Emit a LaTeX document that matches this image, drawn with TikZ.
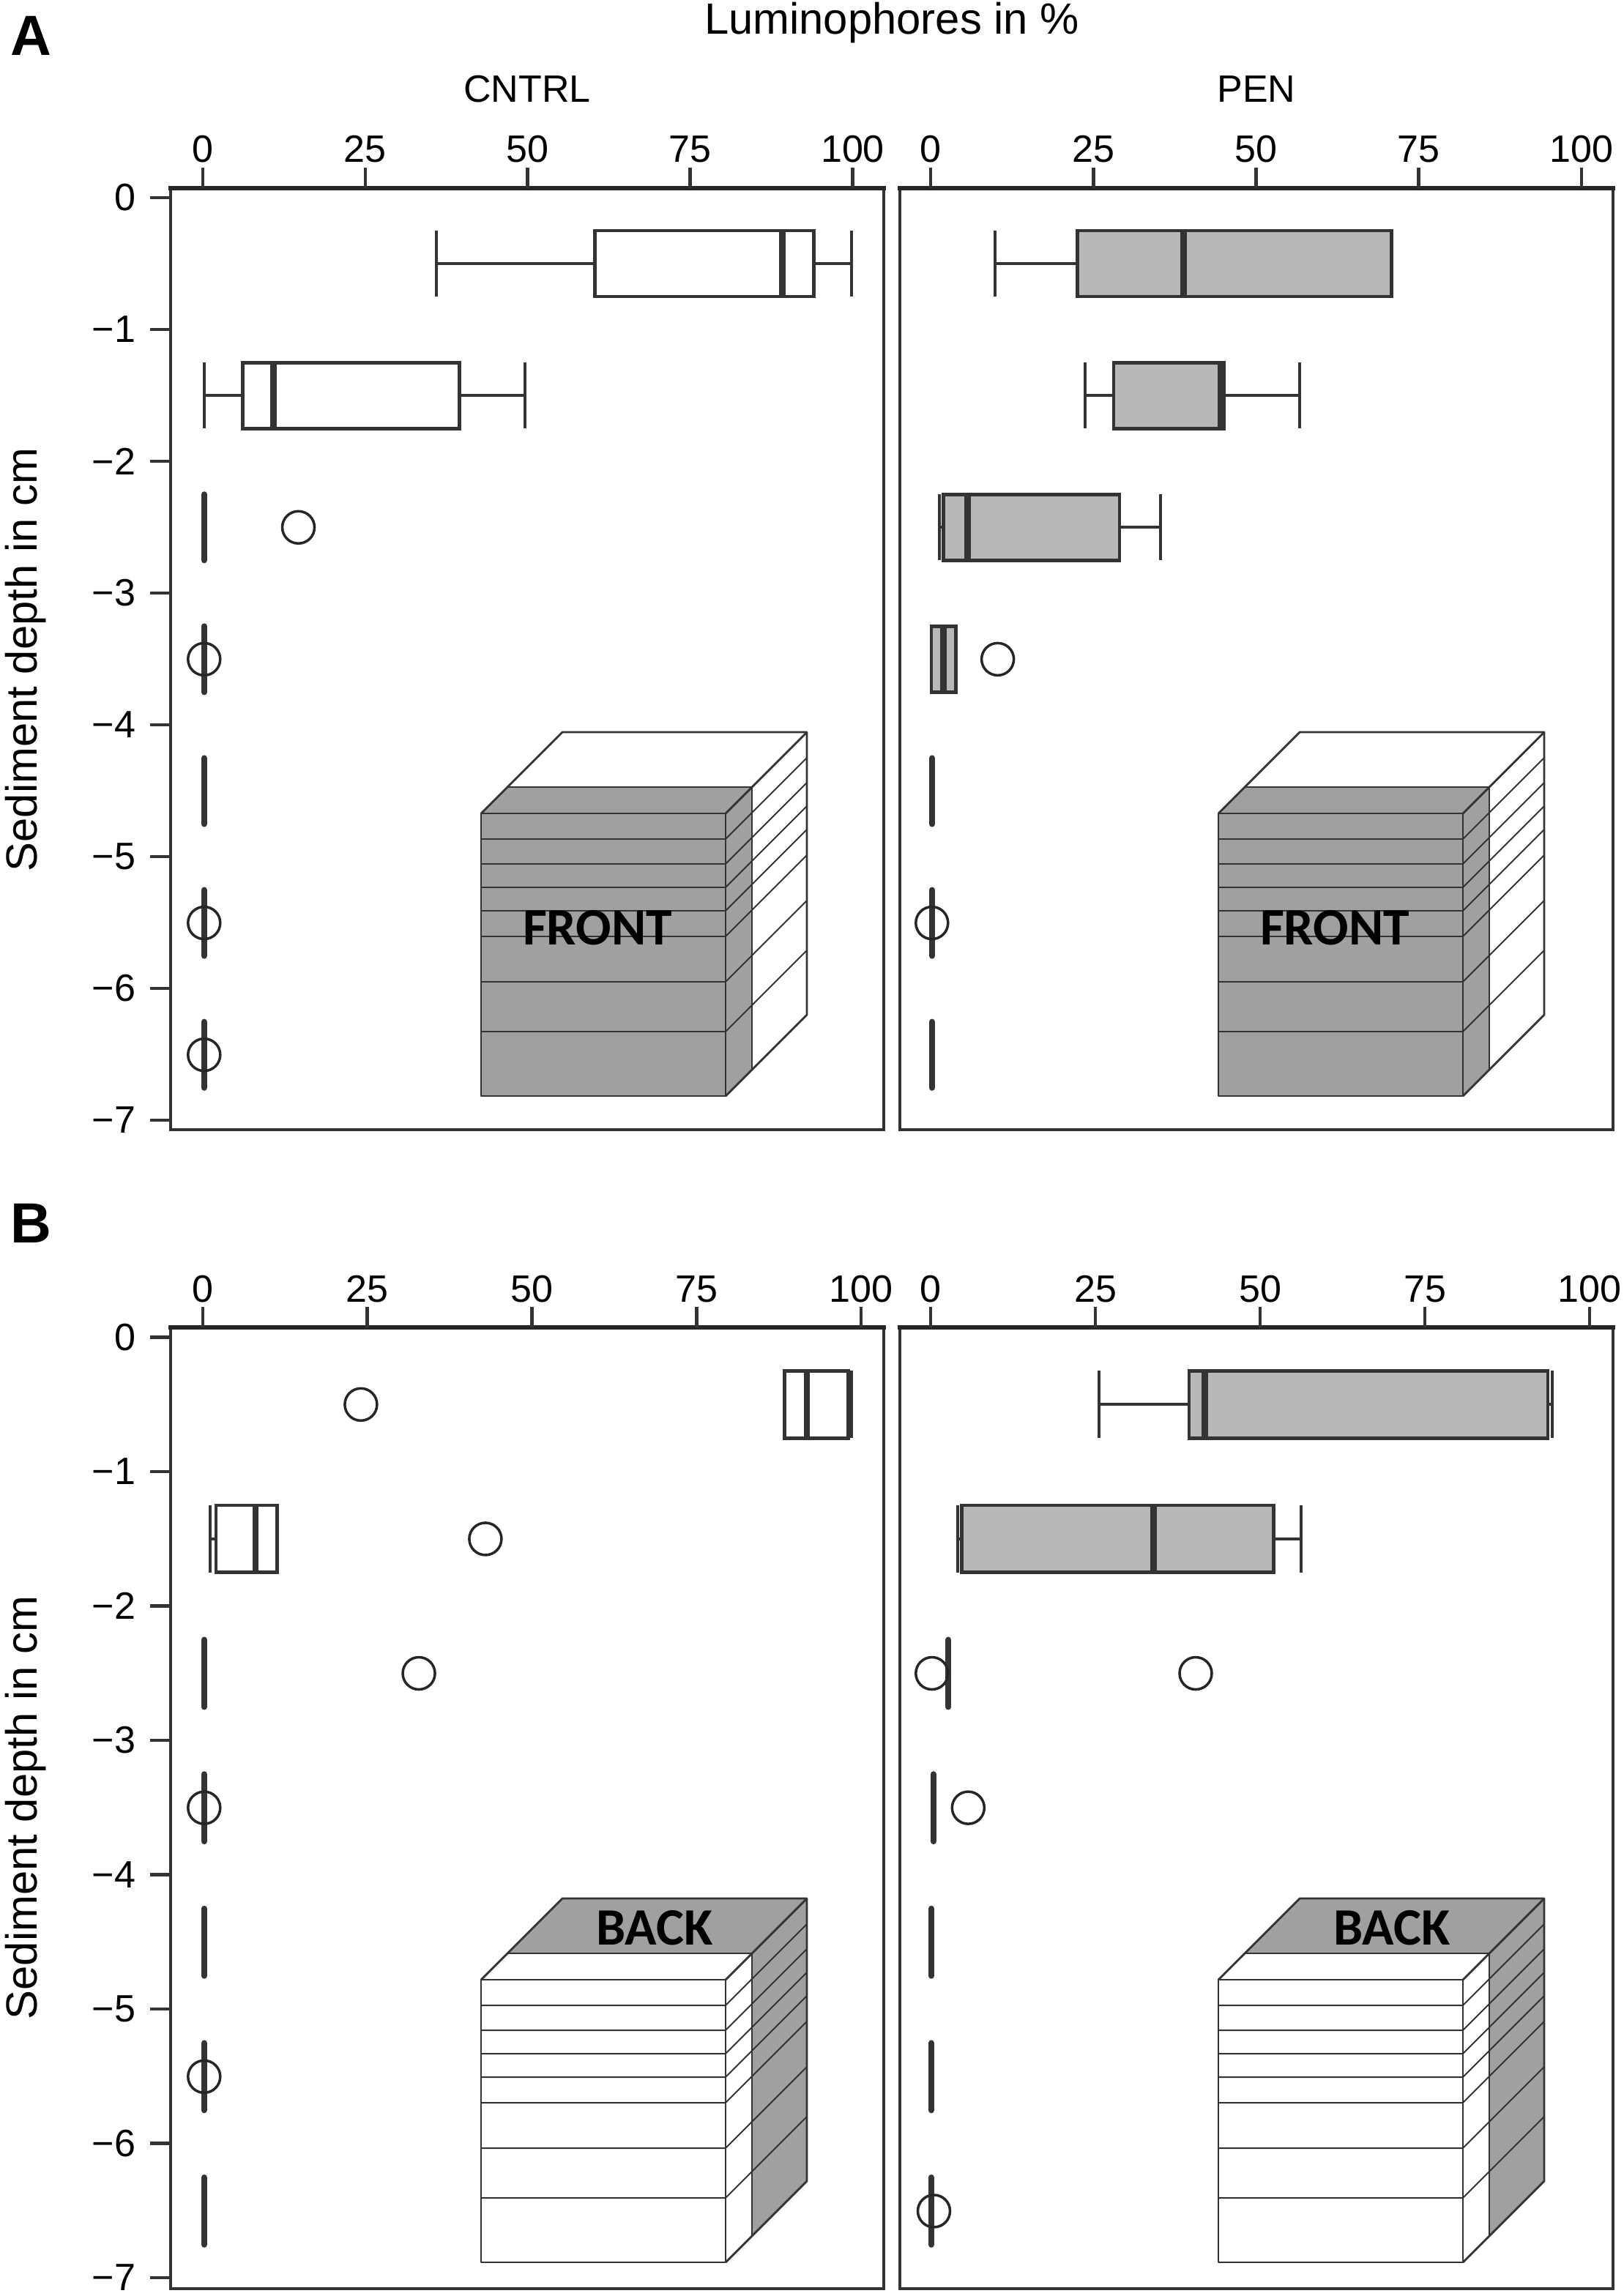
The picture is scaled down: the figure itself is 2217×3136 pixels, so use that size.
\documentclass[tikz,border=0pt]{standalone}
\usepackage{fontspec}
\setmainfont{Liberation Sans}
\newfontfamily\cubefont{Carlito}
\usepackage{tikz}

\definecolor{boxgray}{HTML}{B8B8B8}
\definecolor{cubegray}{HTML}{A0A0A0}
\definecolor{ink}{HTML}{333333}

% depth, low, q1, median, q3, high, fill
\newcommand{\bplot}[7]{
  \draw[whisker line] (#2,#1) -- (#3,#1) (#5,#1) -- (#6,#1);
  \draw[whisker line] (#2,#1-.25) -- (#2,#1+.25) (#6,#1-.25) -- (#6,#1+.25);
  \draw[box line,fill=#7] (#3,#1-.25) rectangle (#5,#1+.25);
  \draw[median line] (#4,#1-.25) -- (#4,#1+.25);
}
\newcommand{\bzero}[2]{\draw[zero line] (#2,#1-.25) -- (#2,#1+.25);}
\newcommand{\boutl}[2]{\draw[outlier line] (#2,#1) circle [radius=0.22cm];}

% name, left, right, top, bottom, x origin, x step, label baseline
\newcommand{\xaxes}[8]{
  \draw[frame line] (#2,#4) rectangle (#3,#5);
  \draw[axis line] (#2,#4) -- (#3,#4);
  \foreach \v in {0,25,50,75,100} {
    \draw[tick line] ({#6+\v*#7},#4) -- ++(0,-28);
    \node[TickStyle,anchor=base] (#1x\v) at ({#6+\v*#7},#8) {\v};
  }
}
% name, y origin, y step
\newcommand{\yaxes}[3]{
  \foreach \d in {0,...,7} {
    \draw[tick line] (205,{#2+\d*#3}) -- (233,{#2+\d*#3});
    \node[TickStyle,anchor=east] (#1y\d) at (186,{#2+\d*#3}) {\ifnum\d=0 0\else −\d\fi};
  }
}
% shift, colour of front part, colour of rear part
\newcommand{\layercube}[3]{
  \begin{scope}[shift={(#1)}]
    \fill[#3] (36,-36) -- (111,-111) -- (445,-111) -- (370,-36) -- cycle;
    \fill[#3] (370,-36) -- (445,-111) -- (445,275) -- (370,350) -- cycle;
    \fill[#2] (0,0) -- (36,-36) -- (370,-36) -- (334,0) -- cycle;
    \fill[#2] (334,0) -- (370,-36) -- (370,350) -- (334,386) -- cycle;
    \fill[#2] (0,0) rectangle (334,386);
    \foreach \h in {35,69,101,133,168,230,298}
      \draw[layer line] (0,\h) -- (334,\h) -- (445,\h-111);
    \draw[layer line] (36,-36) -- (370,-36) -- (370,350);
    \draw[cube line] (0,0) rectangle (334,386);
    \draw[cube line] (0,0) -- (111,-111) -- (445,-111) -- (445,275) -- (334,386);
    \draw[cube line] (334,0) -- (445,-111);
  \end{scope}
}

\begin{document}
\begin{tikzpicture}[x=0.01cm,y=-0.01cm,
  frame line/.style={color=ink,line width=1pt},
  axis line/.style={color=black!85,line width=1.5pt,line cap=rect},
  tick line/.style={color=ink,line width=1.3pt},
  whisker line/.style={color=ink,line width=1.15pt},
  box line/.style={color=ink,line width=1.35pt},
  median line/.style={color=ink,line width=2.5pt},
  zero line/.style={color=ink,line width=2.3pt,line cap=round},
  outlier line/.style={color=black!85,line width=1pt},
  layer line/.style={color=ink,line width=0.55pt},
  cube line/.style={color=ink,line width=0.8pt,line join=round}]
  \tikzset{TickStyle/.style={font=\fontsize{14.8}{17}\selectfont,inner sep=0pt},
    TitleStyle/.style={font=\fontsize{17}{20}\selectfont,inner sep=0pt,anchor=base},
    HeadStyle/.style={font=\fontsize{14.8}{17}\selectfont,inner sep=0pt,anchor=base},
    PanelStyle/.style={font=\fontsize{22}{26}\selectfont\bfseries,inner sep=0pt,anchor=base west},
    CubeStyle/.style={font=\cubefont\fontsize{20.4}{24}\selectfont\bfseries,inner sep=0pt,text=black}}
  \useasboundingbox (0,0) rectangle (2217,3136);

  \node[PanelStyle] (panelA) at (14,75) {A};
  \node[PanelStyle] (panelB) at (14,1697) {B};
  \node[TitleStyle] (title) at (1218,46) {Luminophores in \%};
  \node[HeadStyle] (cntrl) at (720,139) {CNTRL};
  \node[HeadStyle] (pen) at (1716,139) {PEN};
  \node[TitleStyle,rotate=90] (depthA) at (51,901) {Sediment depth in cm};
  \node[TitleStyle,rotate=90] (depthB) at (51,2469) {Sediment depth in cm};

  \xaxes{al}{233}{1207}{257}{1543}{277}{8.875}{221}
  \yaxes{al}{270}{180}
  \xaxes{ar}{1229}{2203}{257}{1543}{1271}{8.89}{221}
  \xaxes{bl}{233}{1207}{1813}{3126}{277}{8.99}{1778}
  \yaxes{bl}{1826.5}{183.5}
  \xaxes{br}{1229}{2203}{1813}{3126}{1271}{9}{1778}

  \layercube{657,1111}{cubegray}{white}
  \layercube{1664,1111}{cubegray}{white}
  \layercube{657,2704}{white}{cubegray}
  \layercube{1664,2704}{white}{cubegray}
  \node[CubeStyle] (frontL) at (816,1267) {FRONT};
  \node[CubeStyle] (frontR) at (1823,1267) {FRONT};
  \node[CubeStyle] (backL) at (894,2633) {BACK};
  \node[CubeStyle] (backR) at (1901,2633) {BACK};

  \begin{scope}[shift={(277,270)},x=0.08875cm,y=1.8cm]
    \bplot{-0.5}{35.9}{60.3}{89.1}{94}{99.8}{white}
    \bplot{-1.5}{0.2}{6.1}{10.9}{39.5}{49.5}{white}
    \bzero{-2.5}{0.2} \boutl{-2.5}{14.7}
    \bzero{-3.5}{0.2} \boutl{-3.5}{0.2}
    \bzero{-4.5}{0.2}
    \bzero{-5.5}{0.2} \boutl{-5.5}{0.2}
    \bzero{-6.5}{0.2} \boutl{-6.5}{0.2}
  \end{scope}
  \begin{scope}[shift={(1271,270)},x=0.0889cm,y=1.8cm]
    \bplot{-0.5}{9.9}{22.5}{38.8}{70.8}{70.8}{boxgray}
    \bplot{-1.5}{23.7}{28.1}{44.6}{45}{56.7}{boxgray}
    \bplot{-2.5}{1.4}{2}{5.7}{29}{35.3}{boxgray}
    \bplot{-3.5}{0.1}{0.1}{2}{3.9}{3.9}{boxgray}
    \boutl{-3.5}{10.3}
    \bzero{-4.5}{0.2}
    \bzero{-5.5}{0.2} \boutl{-5.5}{0.2}
    \bzero{-6.5}{0.2}
  \end{scope}
  \begin{scope}[shift={(277,1826.5)},x=0.0899cm,y=1.835cm]
    \bplot{-0.5}{88.3}{88.3}{91.7}{98}{98.5}{white}
    \boutl{-0.5}{24}
    \bplot{-1.5}{1.1}{2}{8}{11.3}{11.3}{white}
    \boutl{-1.5}{42.9}
    \bzero{-2.5}{0.2} \boutl{-2.5}{32.8}
    \bzero{-3.5}{0.2} \boutl{-3.5}{0.2}
    \bzero{-4.5}{0.2}
    \bzero{-5.5}{0.2} \boutl{-5.5}{0.2}
    \bzero{-6.5}{0.2}
  \end{scope}
  \begin{scope}[shift={(1271,1826.5)},x=0.09cm,y=1.835cm]
    \bplot{-0.5}{25.5}{39.2}{41.6}{93.6}{94.3}{boxgray}
    \bplot{-1.5}{4.1}{4.7}{33.8}{52}{56.2}{boxgray}
    \bzero{-2.5}{2.7} \boutl{-2.5}{0.2} \boutl{-2.5}{40.2}
    \bzero{-3.5}{0.4} \boutl{-3.5}{5.7}
    \bzero{-4.5}{0.1}
    \bzero{-5.5}{0.1}
    \bzero{-6.5}{0.1} \boutl{-6.5}{0.5}
  \end{scope}
\end{tikzpicture}
\end{document}
